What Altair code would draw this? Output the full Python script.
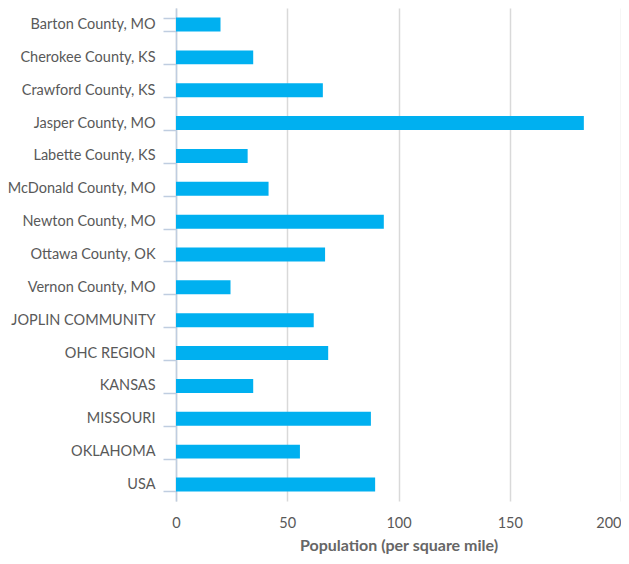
import altair as alt
import pandas as pd

categories = ["Barton County, MO", "Cherokee County, KS", "Crawford County, KS", "Jasper County, MO",
              "Labette County, KS", "McDonald County, MO", "Newton County, MO", "Ottawa County, OK",
              "Vernon County, MO", "JOPLIN COMMUNITY", "OHC REGION", "KANSAS", "MISSOURI",
              "OKLAHOMA", "USA"]
values = [20.0, 34.7, 66.0, 183.3, 32.2, 41.6, 93.4, 67.0, 24.5, 61.9, 68.4, 34.7, 87.6, 55.7, 89.5]
x_ticks = [0, 50, 100, 150, 200]

df = pd.DataFrame({"area": categories, "pop": values})

font = "Lato"
chart = alt.Chart(df).mark_bar(color="#00B0F0").encode(
    x=alt.X("pop:Q", title="Population (per square mile)",
            scale=alt.Scale(domain=[0, 200], nice=False),
            axis=alt.Axis(values=x_ticks, grid=True, gridColor="#D9D9D9", gridWidth=1.5,
                          domain=False, ticks=False, labelPadding=15,
                          labelFont=font, labelFontSize=14.5, labelColor="#595959",
                          labelAlign=alt.expr("datum.value == 200 ? 'right' : 'center'"),
                          titleFont=font, titleFontSize=16, titleFontWeight="bold",
                          titleColor="#666666", titlePadding=8)),
    y=alt.Y("area:N", sort=categories, title=None,
            scale=alt.Scale(paddingInner=0.575, paddingOuter=0.29),
            axis=alt.Axis(domainColor="#BFCDE0", domainWidth=1.5, tickColor="#BFCDE0",
                          tickWidth=1.5, tickSize=13, tickBand="extent", labelPadding=8,
                          labelFont=font, labelFontSize=14.5, labelColor="#595959",
                          grid=False)),
).properties(
    width=445, height=493,
    autosize=alt.AutoSizeParams(type="none"),
    padding={"left": 168, "top": 0, "right": 0, "bottom": 55},
).configure_view(stroke=None)

chart.save("out.html", embed_options={"renderer": "svg", "actions": False})
